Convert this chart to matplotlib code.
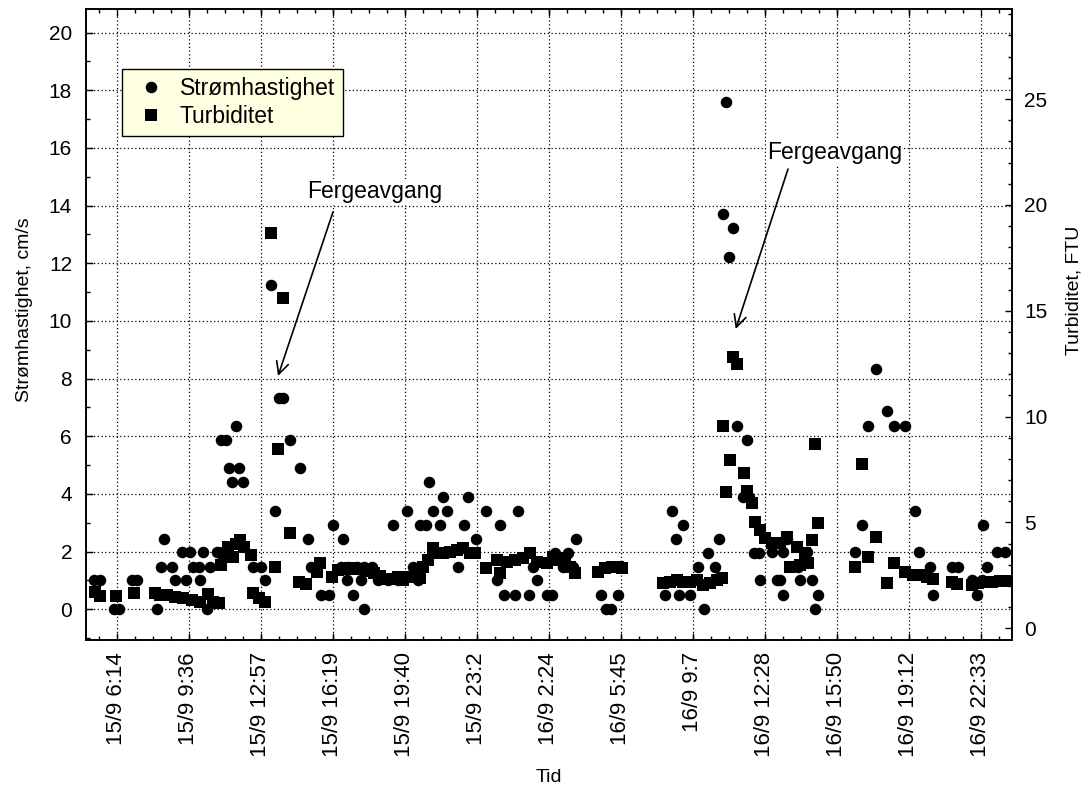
import numpy as np
import matplotlib
matplotlib.use('Agg')
import matplotlib.pyplot as plt
from matplotlib.ticker import MultipleLocator, FixedLocator
from matplotlib.lines import Line2D

plt.rcParams['font.family'] = 'Liberation Sans'

# tid i timer fra 15/9 00:00
tickLabels = ['15/9 6:14', '15/9 9:36', '15/9 12:57', '15/9 16:19', '15/9 19:40', '15/9 23:2',
              '16/9 2:24', '16/9 5:45', '16/9 9:7', '16/9 12:28', '16/9 15:50', '16/9 19:12', '16/9 22:33']

speedTime = [5.17, 5.45, 6.11, 6.34, 6.95, 7.18, 8.11, 8.30, 8.44, 8.81,
             8.95, 9.28, 9.47, 9.65, 9.79, 10.07, 10.12, 10.26, 10.45, 10.59,
             10.91, 11.10, 11.33, 11.47, 11.61, 11.80, 11.94, 12.13, 12.59, 12.97,
             13.15, 13.43, 13.62, 13.81, 13.99, 14.32, 14.79, 15.16, 15.30, 15.77,
             16.14, 16.33, 16.79, 16.70, 17.03, 17.45, 17.77, 18.15, 16.98, 17.63,
             17.26, 17.77, 18.43, 18.89, 19.36, 19.13, 19.78, 20.06, 20.29, 20.39,
             20.67, 20.81, 20.99, 21.32, 21.46, 21.65, 22.16, 22.44, 22.63, 23.00,
             23.47, 23.98, 24.12, 24.31, 24.82, 24.96, 25.47, 25.66, 25.85, 26.31,
             26.55, 26.69, 27.06, 27.29, 27.53, 27.67, 28.83, 29.07, 29.30, 29.63,
             31.82, 32.15, 32.33, 32.47, 32.66, 32.99, 33.36, 33.64, 33.82, 34.15,
             34.34, 34.53, 34.66, 34.80, 34.99, 35.18, 35.46, 35.65, 35.74, 35.97,
             36.21, 36.25, 36.81, 37.05, 37.19, 37.33, 37.33, 37.51, 38.02, 38.12,
             38.45, 38.68, 38.82, 38.96, 40.68, 41.01, 41.29, 41.66, 42.18, 42.50,
             43.02, 43.48, 43.67, 44.18, 44.32, 45.21, 45.49, 46.14, 46.38, 46.61,
             46.66, 46.84, 47.31, 47.68]
speedValue = [1.0, 1.0, 0, 0, 1.0, 1.0, 0, 1.48, 2.44, 1.48,
              1.0, 2.0, 1.0, 2.0, 1.48, 1.48, 1.0, 2.0, 0, 1.48,
              2.0, 5.87, 5.87, 4.89, 4.4, 6.37, 4.89, 4.4, 1.48, 1.48,
              1.0, 11.25, 3.42, 7.34, 7.34, 5.87, 4.89, 2.44, 1.48, 0.5,
              0.5, 2.92, 2.44, 1.48, 1.48, 1.48, 1.48, 1.48, 1.0, 1.0,
              0.5, 0, 1.0, 1.0, 1.0, 2.92, 3.42, 1.48, 1.0, 2.92,
              2.92, 4.4, 3.42, 2.92, 3.91, 3.42, 1.48, 2.92, 3.91, 2.44,
              3.42, 1.0, 2.92, 0.5, 0.5, 3.42, 0.5, 1.48, 1.0, 0.5,
              0.5, 1.94, 1.48, 1.94, 1.48, 2.44, 0.5, 0, 0, 0.5,
              0.5, 3.42, 2.44, 0.5, 2.92, 0.5, 1.48, 0, 1.94, 1.48,
              2.44, 13.71, 17.6, 12.23, 13.22, 6.37, 3.91, 5.87, 3.91, 1.94,
              1.94, 1.0, 2.0, 1.0, 1.0, 2.0, 0.5, 2.44, 1.48, 1.0,
              2.0, 1.0, 0, 0.5, 2.0, 2.92, 6.37, 8.32, 6.86, 6.37,
              6.37, 3.42, 2.0, 1.48, 0.5, 1.48, 1.48, 1.0, 0.5, 1.0,
              2.92, 1.48, 2.0, 2.0]

turbTime = [5.22, 5.45, 6.20, 7.04, 8.02, 8.25, 8.58, 8.95, 9.33, 9.75,
            10.12, 10.49, 10.73, 11.01, 11.10, 11.24, 11.43, 11.66, 11.80, 11.99,
            12.17, 12.50, 12.59, 12.87, 13.15, 13.43, 13.62, 13.76, 13.99, 14.32,
            14.74, 15.07, 15.58, 15.72, 16.28, 16.56, 16.84, 17.12, 17.40, 17.68,
            17.96, 18.24, 18.52, 18.80, 19.08, 19.36, 19.59, 19.83, 20.15, 20.39,
            20.53, 20.76, 20.99, 21.23, 21.46, 21.79, 22.11, 22.39, 22.72, 22.95,
            23.47, 23.98, 24.12, 24.45, 24.82, 25.19, 25.52, 25.85, 26.31, 26.59,
            26.83, 27.15, 27.39, 27.62, 28.69, 29.02, 29.35, 29.63, 29.81, 31.73,
            32.05, 32.38, 32.66, 32.99, 33.31, 33.59, 33.92, 34.24, 34.48, 34.53,
            34.66, 34.85, 34.99, 35.18, 35.51, 35.65, 35.88, 36.02, 36.25, 36.49,
            36.81, 37.19, 37.51, 37.65, 37.98, 38.12, 38.35, 38.49, 38.68, 38.82,
            38.96, 40.68, 41.01, 41.29, 41.66, 42.18, 42.50, 43.02, 43.39, 43.72,
            44.04, 44.32, 45.21, 45.44, 46.14, 46.42, 46.75, 47.08, 47.45, 47.78]
turbValue = [1.73, 1.53, 1.53, 1.65, 1.65, 1.57, 1.57, 1.49, 1.42, 1.34,
             1.26, 1.6, 1.26, 1.2, 3.0, 3.54, 3.85, 3.38, 4.0, 4.17,
             3.85, 3.46, 1.65, 1.42, 1.26, 18.67, 2.91, 8.45, 15.6, 4.49,
             2.2, 2.09, 2.67, 3.1, 2.44, 2.75, 2.8, 2.85, 2.8, 2.8,
             2.7, 2.6, 2.45, 2.35, 2.35, 2.4, 2.28, 2.44, 2.6, 2.36,
             2.91, 3.23, 3.78, 3.54, 3.54, 3.62, 3.7, 3.78, 3.54, 3.54,
             2.86, 3.23, 2.63, 3.15, 3.23, 3.31, 3.54, 3.15, 3.07, 3.38,
             3.23, 3.3, 2.91, 2.6, 2.67, 2.83, 2.91, 2.91, 2.83, 2.15,
             2.2, 2.28, 2.2, 2.2, 2.28, 2.05, 2.13, 2.28, 2.36, 9.57,
             6.42, 7.95, 12.8, 12.48, 7.32, 6.5, 5.9, 5.04, 4.64, 4.25,
             4.01, 4.01, 4.33, 2.91, 3.85, 2.99, 3.54, 3.1, 4.17, 8.69,
             4.99, 2.91, 7.75, 3.38, 4.3, 2.13, 3.1, 2.67, 2.52, 2.52,
             2.44, 2.31, 2.2, 2.09, 2.05, 2.13, 2.2, 2.2, 2.25, 2.25]


def toHours(label):
    d, t = label.split(' ')
    day = int(d.split('/')[0])
    h, m = t.split(':')
    return (day - 15) * 24 + int(h) + int(m) / 60.0


tickPos = [toHours(s) for s in tickLabels]
minorStep = (tickPos[-1] - tickPos[0]) / (len(tickPos) - 1) / 4
minorPos = tickPos[0] + minorStep * np.arange(-2, 4 * (len(tickPos) - 1) + 3)

DPI = 100
fig = plt.figure(figsize=[10.9, 7.99], dpi=DPI)
ax = fig.add_axes([0.0789, 0.1996, 0.8495, 0.7891])
ax2 = ax.twinx()

ax.plot(speedTime, speedValue, 'o', color='black', markersize=8.3, markeredgewidth=0, zorder=3)
ax2.plot(turbTime, turbValue, 's', color='black', markersize=8.3, markeredgewidth=0, zorder=3)

ax.set_xlim(4.80, 48.01)
ax.set_ylim(-1.05, 20.82)
ax2.set_ylim(-0.53, 29.25)

ax.set_xticks(tickPos)
ax.set_xticklabels(tickLabels, rotation=90)
ax.xaxis.set_minor_locator(FixedLocator(minorPos))
ax.yaxis.set_major_locator(MultipleLocator(2))
ax.yaxis.set_minor_locator(MultipleLocator(1))
ax2.yaxis.set_major_locator(MultipleLocator(5))
ax2.yaxis.set_minor_locator(MultipleLocator(1))

ax.tick_params(axis='both', which='both', direction='in', top=True, right=False, labelsize=15)
ax.tick_params(which='major', length=5, width=1)
ax.tick_params(which='minor', length=3, width=1)
ax.tick_params(axis='y', pad=10)
ax.tick_params(axis='x', pad=9, labelsize=16)
ax2.tick_params(axis='y', which='both', direction='in', labelsize=15, pad=9)
ax2.tick_params(which='major', length=5, width=1)
ax2.tick_params(which='minor', length=3, width=1)

ax.grid(True, which='major', color='black', linestyle=(0, (1, 2)), linewidth=0.9)
for a in [ax, ax2]:
    for s in a.spines.values():
        s.set_linewidth(1.2)

ax.set_xlabel('Tid', fontsize=14)
ax.xaxis.set_label_coords(0.5, -0.205)
ax.set_ylabel('Strømhastighet, cm/s', fontsize=14)
ax.yaxis.set_label_coords(-0.0572, 0.5226)
ax2.set_ylabel('Turbiditet, FTU', fontsize=14)
ax2.yaxis.set_label_coords(1.058, 0.553)

# piler
ax.annotate('', xy=(13.76, 8.09), xytext=(16.33, 13.79),
            arrowprops=dict(arrowstyle='->', color='black', lw=1.2, shrinkA=0, shrinkB=0,
                            mutation_scale=22))
ax.text(15.11, 14.48, 'Fergeavgang', fontsize=16.5, ha='left', va='center',
        bbox=dict(facecolor='white', edgecolor='none', pad=1))
ax.annotate('', xy=(35.12, 9.72), xytext=(37.56, 15.27),
            arrowprops=dict(arrowstyle='->', color='black', lw=1.2, shrinkA=0, shrinkB=0,
                            mutation_scale=22))
ax.text(36.58, 15.83, 'Fergeavgang', fontsize=16.5, ha='left', va='center',
        bbox=dict(facecolor='white', edgecolor='none', pad=1))

handles = [Line2D([], [], marker='o', color='black', linestyle='none', markersize=8.3, markeredgewidth=0),
           Line2D([], [], marker='s', color='black', linestyle='none', markersize=8.3, markeredgewidth=0)]
leg = ax2.legend(handles, ['Strømhastighet', 'Turbiditet'], loc='upper left',
                 bbox_to_anchor=(0.0389, 0.905), fancybox=False, edgecolor='black',
                 facecolor='#FFFFE1', framealpha=1, fontsize=16.5, borderaxespad=0,
                 handlelength=1.83, handletextpad=0.35, borderpad=0.35, labelspacing=0.2)
leg.get_frame().set_linewidth(1.0)

fig.savefig('out.png', dpi=DPI)
